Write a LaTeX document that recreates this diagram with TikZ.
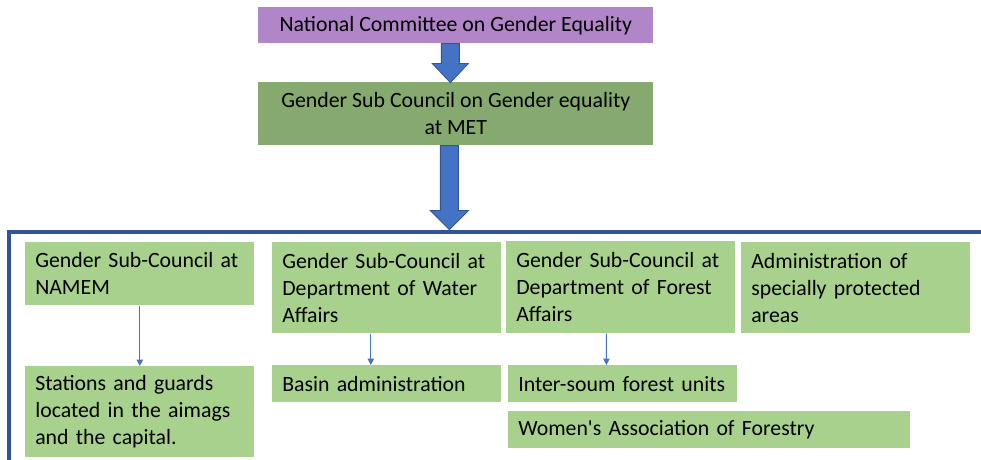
\documentclass[tikz,border=0pt]{standalone}
\usepackage{fontspec}
\setmainfont{Carlito}
\usetikzlibrary{arrows.meta}
\definecolor{committeepurple}{RGB}{177,134,200}
\definecolor{councilgreen}{RGB}{134,169,111}
\definecolor{unitgreen}{RGB}{169,209,142}
\definecolor{arrowblue}{RGB}{68,114,196}
\definecolor{frameblue}{RGB}{47,85,151}
\tikzset{
  headbox/.style={minimum width=9.875cm, inner xsep=0pt, inner ysep=0pt, align=center, anchor=north west, font=\fontsize{15.5}{19.1}\selectfont},
  unitbox/.style={fill=unitgreen, anchor=north west, text width=5.225cm, inner xsep=0.25cm, inner ysep=0pt, align=left, font=\fontsize{15.5}{19.1}\selectfont},
  bigarrow/.style={fill=arrowblue, draw=frameblue, line width=0.6pt, line join=miter},
  linkarrow/.style={draw=arrowblue, line width=0.8pt, -{Triangle[width=4.5pt,length=4.5pt]}},
  frameline/.style={draw=frameblue, line width=2.2pt}
}
\begin{document}
\begin{tikzpicture}[x=0.025cm, y=-0.025cm]
\useasboundingbox (0,0) rectangle (981,460);
\node [headbox, fill=committeepurple, minimum height=0.9cm] (committee) at (258,7) {National Committee on Gender Equality};
\node [headbox, fill=councilgreen, minimum height=1.575cm] (council) at (258,82) {Gender Sub Council on Gender equality\\at MET};
\path (committee.south) ++(-5.5,0) coordinate (arrowtop);
\draw [bigarrow] (arrowtop) ++(-9,0) -- ++(0,20) -- ++(-9,0) -- ++(18,19) -- ++(18,-19) -- ++(-9,0) -- ++(0,-20) -- cycle;
\path (council.south) ++(-6.5,0) coordinate (arrowmid);
\draw [bigarrow] (arrowmid) ++(-9,0) -- ++(0,65) -- ++(-10,0) -- ++(19,19) -- ++(19,-19) -- ++(-10,0) -- ++(0,-65) -- cycle;
\coordinate (framecorner) at (9,232);
\coordinate (frameend) at (981,232);
\coordinate (framefoot) at (9,460);
\draw [frameline] (framefoot) -- (framecorner) -- (frameend);
\node [unitbox, minimum height=1.575cm] (namem) at (25,242) {Gender Sub-Council at\\NAMEM};
\node [unitbox, minimum height=2.275cm] (stations) at (25,366) {Stations and guards\\located in the aimags\\and the capital.};
\node [unitbox, minimum height=2.275cm] (water) at (272,242) {Gender Sub-Council at\\Department of Water\\Affairs};
\node [unitbox, minimum height=0.925cm] (basin) at (272,365) {Basin administration};
\node [unitbox, minimum height=2.3cm] (forest) at (506,241) {Gender Sub-Council at\\Department of Forest\\Affairs};
\node [unitbox, minimum height=0.925cm] (intersoum) at (508,365) {Inter-soum forest units};
\node [unitbox, minimum height=2.275cm] (protected) at (741,242) {Administration of\\specially protected\\areas};
\node [unitbox, minimum height=0.925cm, text width=9.55cm] (womens) at (508,411) {Women\textquotesingle s Association of Forestry};
\draw [linkarrow] (namem.south) -- (stations.north);
\draw [linkarrow] ([xshift=-0.4cm]water.south) -- ([xshift=-0.4cm]basin.north);
\draw [linkarrow] ([xshift=-0.36cm]forest.south) -- ([xshift=-0.41cm]intersoum.north);
\end{tikzpicture}
\end{document}
